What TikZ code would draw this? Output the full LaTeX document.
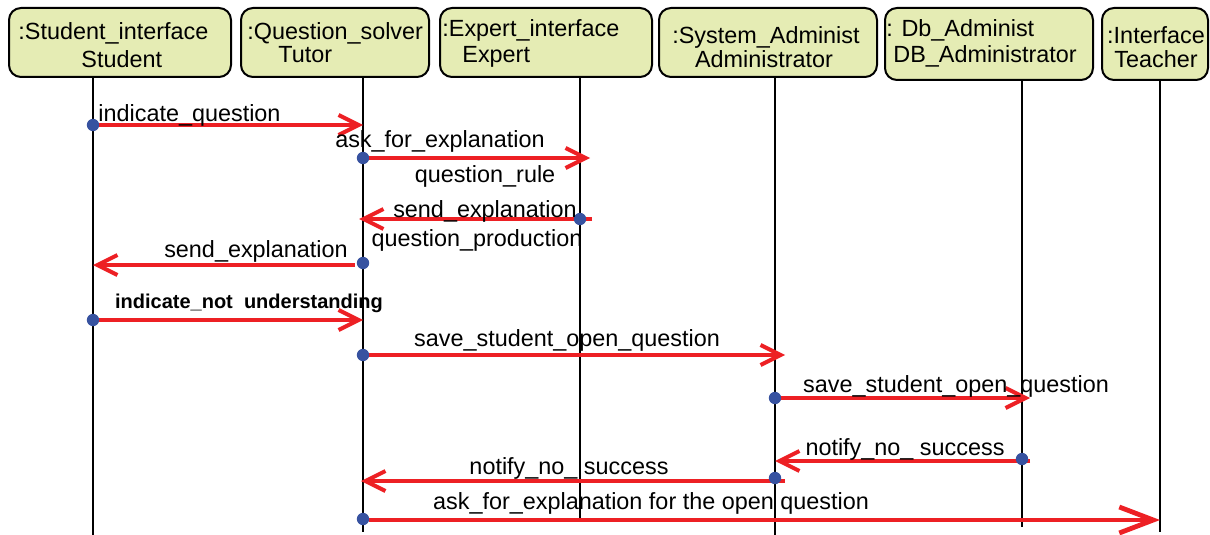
\documentclass[tikz,border=0pt]{standalone}
\usepackage{fontspec}
\setmainfont{Liberation Sans}
\usetikzlibrary{arrows.meta}
\definecolor{boxfill}{RGB}{229,236,180}
\definecolor{msgred}{RGB}{237,32,36}
\definecolor{dotblue}{RGB}{55,82,160}

\begin{document}
\begin{tikzpicture}[
            x=0.5pt, y=-0.5pt,
            every node/.style={inner sep=0pt, font=\fontsize{11.7}{14}\selectfont},
            obj/.style={draw, line width=1pt, rounded corners=6pt, fill=boxfill, minimum height=34.5pt},
            life/.style={line width=0.9pt},
            msg/.style={draw=msgred, line width=2pt, -{Straight Barb[length=10pt,width=10pt]}},
            dot/.style={circle, fill=dotblue, minimum size=6.2pt},
            ]
            \useasboundingbox (0,0) rectangle (1210,535);
            % objects
            \node[obj, minimum width=111pt] (stud) at (120,42.5) {};
            \node[obj, minimum width=94pt] (tut) at (335,42.5) {};
            \node[obj, minimum width=106pt] (exp) at (546,42.5) {};
            \node[obj, minimum width=109pt] (adm) at (768,42.5) {};
            \node[obj, minimum width=104pt, minimum height=36pt] (db) at (989,44) {};
            \node[obj, minimum width=53pt, minimum height=36pt] (teach) at (1155,44) {};
            \node[anchor=base west] (studA) at (18,40) {:Student\_interface};
            \node[anchor=base west] (studB) at (81,68) {Student};
            \node[anchor=base west] (tutA) at (247,40) {:Question\_solver};
            \node[anchor=base west] (tutB) at (278,63) {Tutor};
            \node[anchor=base west] (expA) at (442,37) {:Expert\_interface};
            \node[anchor=base west] (expB) at (462,63) {Expert};
            \node[anchor=base] (admA) at (766,44) {:System\_Administ};
            \node[anchor=base] (admB) at (764,68) {Administrator};
            \node[anchor=base west] (dbA) at (886,37) {: Db\_Administ};
            \node[anchor=base west] (dbB) at (893,63) {DB\_Administrator};
            \node[anchor=base] (teachA) at (1156,44) {:Interface};
            \node[anchor=base] (teachB) at (1156,68) {Teacher};
            % lifelines
            \coordinate (lstud) at (93,535);
            \coordinate (ltut) at (363,532);
            \coordinate (lexp) at (580,520);
            \coordinate (ladm) at (775,535);
            \coordinate (ldb) at (1022,527);
            \coordinate (lteach) at (1160,532);
            \draw[life] (stud.south -| lstud) -- (lstud);
            \draw[life] (tut.south -| ltut) -- (ltut);
            \draw[life] (exp.south -| lexp) -- (lexp);
            \draw[life] (adm.south -| ladm) -- (ladm);
            \draw[life] (db.south -| ldb) -- (ldb);
            \draw[life] (teach.south -| lteach) -- (lteach);
            % messages
            \draw[msg] (lstud |- 0,125) -- (ltut |- 0,125);
            \draw[msg, shorten >=-5pt] (ltut |- 0,158) -- (lexp |- 0,158);
            \draw[msg, shorten <=-6pt, shorten >=-2pt] (lexp |- 0,219) -- (ltut |- 0,219);
            \draw[msg, shorten <=4pt] (ltut |- 0,265) -- (lstud |- 0,265);
            \draw[msg] (lstud |- 0,320) -- (ltut |- 0,320);
            \draw[msg, shorten >=-5pt] (ltut |- 0,355) -- (ladm |- 0,355);
            \draw[msg, shorten >=-4pt] (ladm |- 0,398) -- (ldb |- 0,398);
            \draw[msg, shorten <=-4pt] (ldb |- 0,461) -- (ladm |- 0,461);
            \draw[msg, shorten <=-5pt, shorten >=-1pt] (ladm |- 0,481) -- (ltut |- 0,481);
            \draw[msg, line width=2.4pt, -{Straight Barb[length=17pt,width=13pt]}, shorten <=3pt] (ltut |- 0,520) -- (lteach |- 0,520);
            \node[dot] (d1) at (lstud |- 0,125) {};
            \node[dot] (d2) at (ltut |- 0,158) {};
            \node[dot] (d3) at (lexp |- 0,219) {};
            \node[dot] (d4) at (ltut |- 0,263) {};
            \node[dot] (d5) at (lstud |- 0,320) {};
            \node[dot] (d6) at (ltut |- 0,355) {};
            \node[dot] (d7) at (ladm |- 0,398) {};
            \node[dot] (d8) at (ldb |- 0,459) {};
            \node[dot] (d9) at (ladm |- 0,478) {};
            \node[dot] (d10) at (ltut |- 0,519) {};
            % labels
            \node[anchor=base west] (m1) at (98,122) {indicate\_question};
            \node[anchor=base] (m2) at (440,148) {ask\_for\_explanation};
            \node[anchor=base] (m2b) at (485,183) {question\_rule};
            \node[anchor=base] (m3) at (485,217) {send\_explanation};
            \node[anchor=base] (m3b) at (477,246) {question\_production};
            \node[anchor=base] (m4) at (256,257) {send\_explanation};
            \node[anchor=base, font=\fontsize{10}{12}\selectfont\bfseries] (m5) at (249,308) {indicate\_not\ \ understanding};
            \node[anchor=base] (m6) at (567,346) {save\_student\_open\_question};
            \node[anchor=base] (m7) at (956,392) {save\_student\_open\_question};
            \node[anchor=base] (m8) at (905,455) {notify\_no\_ success};
            \node[anchor=base] (m9) at (569,474) {notify\_no\_ success};
            \node[anchor=base] (m10) at (651,509) {ask\_for\_explanation for the open question};
        \end{tikzpicture}
\end{document}
